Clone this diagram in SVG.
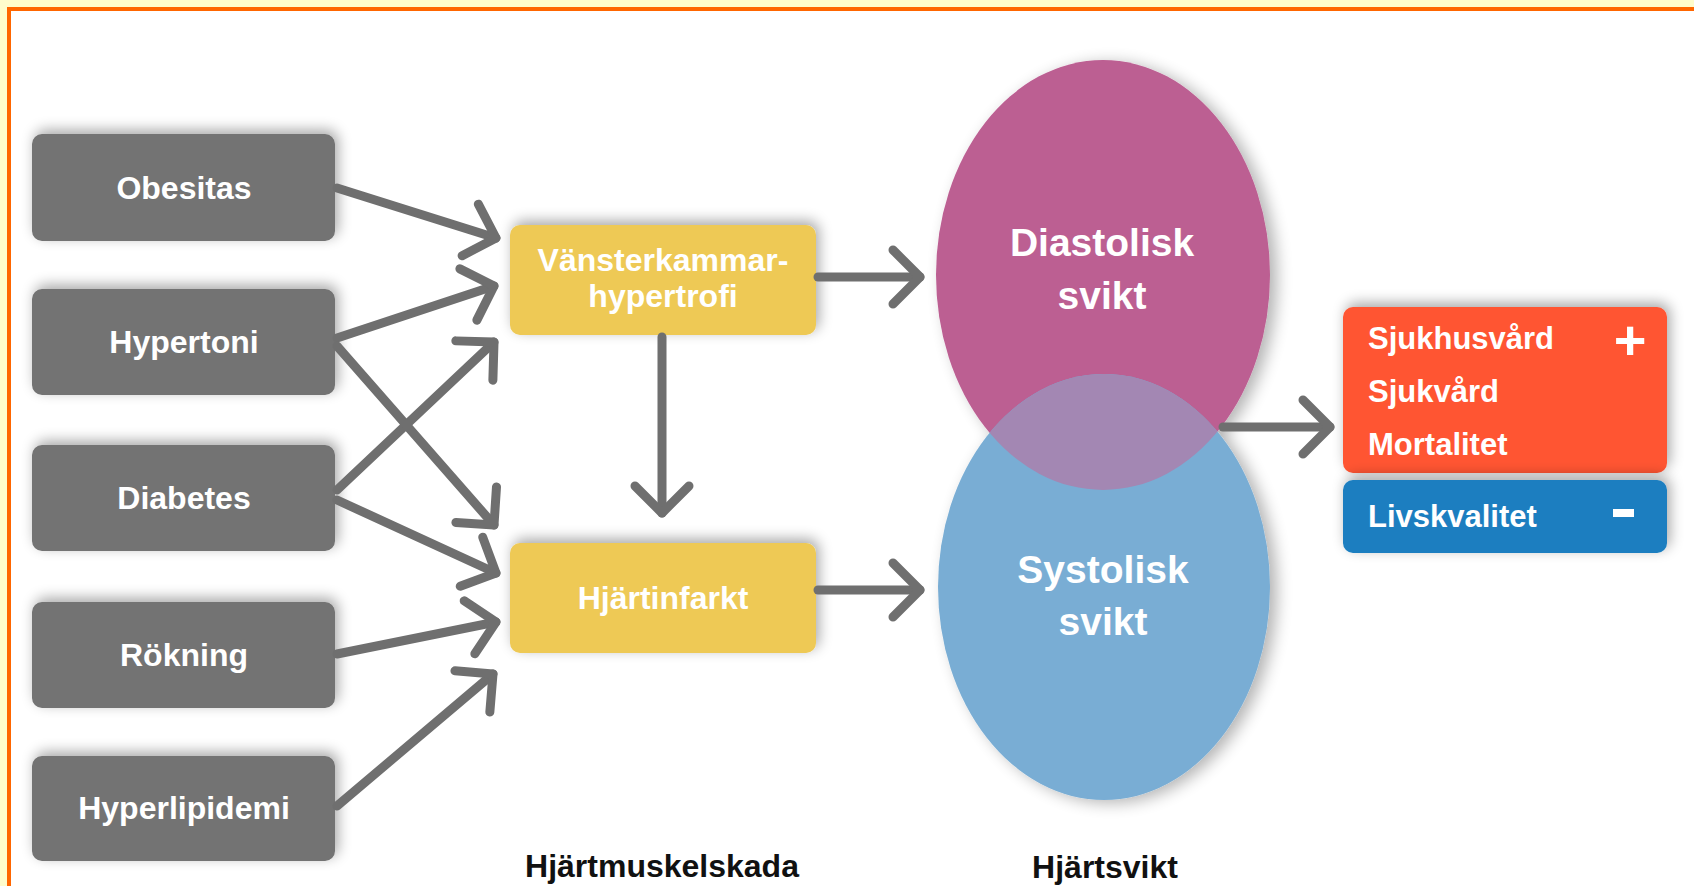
<svg xmlns="http://www.w3.org/2000/svg" width="1694" height="886" viewBox="0 0 1694 886">
<defs>
<style>
.t{font-family:"Liberation Sans",Arial,Helvetica,sans-serif;font-weight:bold;fill:#fff;text-anchor:middle}
.g{font-size:32px}
.y{font-size:32px}
.e{font-size:39px}
.o{font-size:31px;text-anchor:start}
.lab{font-family:"Liberation Sans",Arial,Helvetica,sans-serif;font-weight:bold;fill:#111;font-size:32px;text-anchor:middle}
.gbox{fill:#737373;filter:url(#sh)}
.ybox{fill:#EEC955;filter:url(#sh)}
.conn line{stroke:#6f6f6f;stroke-width:9;stroke-linecap:round;fill:none;marker-end:url(#arr)}
</style>
<filter id="sh" x="-20%" y="-30%" width="140%" height="160%">
<feGaussianBlur in="SourceAlpha" stdDeviation="7"/>
<feOffset dx="3" dy="-4" result="b"/>
<feComponentTransfer><feFuncA type="linear" slope="0.35"/></feComponentTransfer>
<feMerge><feMergeNode/><feMergeNode in="SourceGraphic"/></feMerge>
</filter>
<filter id="esh" x="-20%" y="-20%" width="140%" height="140%">
<feGaussianBlur in="SourceAlpha" stdDeviation="8"/>
<feOffset dx="7" dy="3"/>
<feComponentTransfer><feFuncA type="linear" slope="0.3"/></feComponentTransfer>
<feMerge><feMergeNode/><feMergeNode in="SourceGraphic"/></feMerge>
</filter>
<marker id="arr" viewBox="-35 -35 45 70" refX="0" refY="0" markerWidth="45" markerHeight="70" markerUnits="userSpaceOnUse" orient="auto">
<path d="M-27,-27 L0,0 L-27,27" fill="none" stroke="#6f6f6f" stroke-width="9" stroke-linecap="round" stroke-linejoin="round"/>
</marker>
<clipPath id="pinkclip"><ellipse cx="1103" cy="275" rx="167" ry="215"/></clipPath>
</defs>
<rect x="0" y="0" width="1694" height="886" fill="#FFFCCB"/>
<rect x="11" y="11" width="1683" height="875" fill="#ffffff"/>
<rect x="7" y="7" width="1687" height="4" fill="#FF6600"/>
<rect x="7" y="7" width="4" height="879" fill="#FF6600"/>

<g id="obesitas"><rect class="gbox" x="32" y="134" width="303" height="107" rx="10"/><text class="t g" x="184" y="199">Obesitas</text></g>
<g id="hypertoni"><rect class="gbox" x="32" y="289" width="303" height="106" rx="10"/><text class="t g" x="184" y="353">Hypertoni</text></g>
<g id="diabetes"><rect class="gbox" x="32" y="445" width="303" height="106" rx="10"/><text class="t g" x="184" y="509">Diabetes</text></g>
<g id="rokning"><rect class="gbox" x="32" y="602" width="303" height="106" rx="10"/><text class="t g" x="184" y="666">Rökning</text></g>
<g id="hyperlipidemi"><rect class="gbox" x="32" y="756" width="303" height="105" rx="10"/><text class="t g" x="184" y="819">Hyperlipidemi</text></g>

<g id="vkh"><rect class="ybox" x="510" y="225" width="306" height="110" rx="10"/><text class="t y" x="663" y="271">Vänsterkammar-</text><text class="t y" x="663" y="307">hypertrofi</text></g>
<g id="hjartinfarkt"><rect class="ybox" x="510" y="543" width="306" height="110" rx="10"/><text class="t y" x="663" y="609">Hjärtinfarkt</text></g>

<g id="venn">
<g filter="url(#esh)">
<ellipse cx="1103" cy="275" rx="167" ry="215" fill="#BC5E92"/>
<ellipse cx="1104" cy="587" rx="166" ry="213" fill="#79ADD4"/>
</g>
<ellipse cx="1104" cy="587" rx="166" ry="213" fill="#A387B3" clip-path="url(#pinkclip)"/>
</g>
<g id="diastolisk"><text class="t e" x="1102" y="256">Diastolisk</text><text class="t e" x="1102" y="309">svikt</text></g>
<g id="systolisk"><text class="t e" x="1103" y="583">Systolisk</text><text class="t e" x="1103" y="635">svikt</text></g>

<g id="utfall"><rect x="1343" y="307" width="324" height="166" rx="10" fill="#FF5433" filter="url(#sh)"/>
<text class="t o" x="1368" y="349">Sjukhusvård</text>
<text class="t o" x="1368" y="402">Sjukvård</text>
<text class="t o" x="1368" y="455">Mortalitet</text>
<text class="t" x="1630" y="359" font-size="56">+</text></g>
<g id="livskvalitet"><rect x="1343" y="480" width="324" height="73" rx="10" fill="#1B7EC0" filter="url(#sh)"/>
<text class="t o" x="1368" y="527">Livskvalitet</text>
<rect x="1613" y="509" width="21" height="8" fill="#fff"/></g>

<g id="labels"><text class="lab" x="662" y="877">Hjärtmuskelskada</text><text class="lab" x="1105" y="878">Hjärtsvikt</text></g>

<g class="conn" id="connectors">
<line x1="337" y1="188" x2="496" y2="238"/>
<line x1="337" y1="338" x2="494" y2="286"/>
<line x1="337" y1="490" x2="494" y2="342"/>
<line x1="337" y1="346" x2="494" y2="525"/>
<line x1="337" y1="500" x2="496" y2="573"/>
<line x1="337" y1="654" x2="496" y2="622"/>
<line x1="337" y1="806" x2="493" y2="674"/>
<line x1="818" y1="277" x2="920" y2="277"/>
<line x1="818" y1="590" x2="920" y2="590"/>
<line x1="662" y1="337" x2="662" y2="513"/>
<line x1="1223" y1="427" x2="1330" y2="427"/>
</g>
</svg>
